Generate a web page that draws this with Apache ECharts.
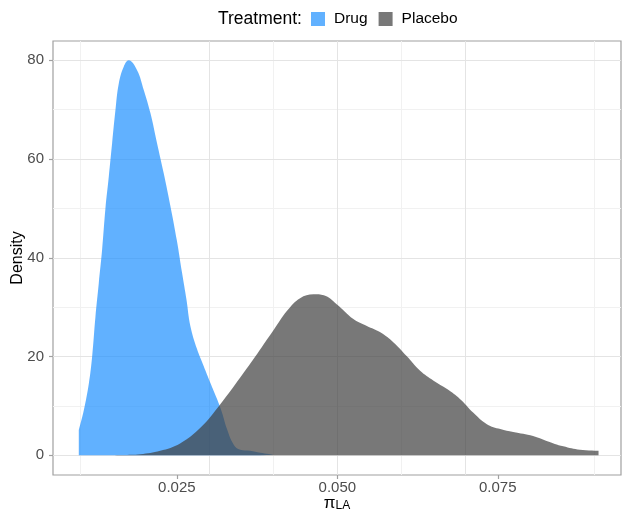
<!DOCTYPE html>
<html>
<head>
<meta charset="utf-8">
<script src="https://cdn.jsdelivr.net/npm/echarts@6/dist/echarts.min.js"></script>
<style>
  html, body { margin: 0; padding: 0; background: #ffffff; }
  #chart { width: 622px; height: 513px; }
</style>
</head>
<body>
<div id="chart"></div>
<script>
// Posterior density of pi_LA by treatment group
const drugX = [0.00972, 0.01050, 0.01128, 0.01180, 0.01231, 0.01283, 0.01335, 0.01387, 0.01439, 0.01491,
               0.01543, 0.01595, 0.01672, 0.01750, 0.01880, 0.01984, 0.02088, 0.02191, 0.02295, 0.02399,
               0.02500, 0.02580, 0.02650, 0.02710, 0.02814, 0.02917, 0.03021, 0.03126, 0.03204, 0.03281,
               0.03384, 0.03488, 0.03644, 0.03800, 0.04007];
const drugY = [5.1, 9.1, 14.5, 20, 28, 34.8, 41.6, 50, 56.4, 63.2,
               69.9, 75.3, 78.7, 80, 78, 74, 69.3, 63.2, 57.1, 50.5,
               43.5, 37, 31.5, 26.2, 21.5, 18.1, 14.7, 11.4, 8.6, 5.3,
               2.2, 1.1, 0.9, 0.5, 0.1];

const placeboX = [0.0140, 0.0165, 0.0193, 0.0224, 0.0255, 0.0287, 0.0318, 0.0349, 0.0375, 0.0401,
                  0.0422, 0.0442, 0.0463, 0.0479, 0.0499, 0.0525, 0.0546, 0.0567, 0.0588, 0.0608,
                  0.0629, 0.0650, 0.0671, 0.0691, 0.0712, 0.0733, 0.0754, 0.0774, 0.0805, 0.0826,
                  0.0852, 0.0878, 0.0907];
const placeboY = [0.0, 0.05, 0.2, 0.9, 2.4, 5.6, 10.4, 15.8, 20.5, 25.4,
                  29.3, 31.8, 32.6, 32.4, 30.6, 27.6, 26.2, 24.9, 22.8, 20.1,
                  17.1, 15.1, 13.4, 11.4, 8.6, 6.3, 5.3, 4.7, 3.9, 2.9,
                  1.8, 1.1, 0.9];

const groups = ['Drug', 'Placebo'];
const legendTitle = 'Treatment:';

const xMajor = [0.025, 0.05, 0.075];
const xMinor = [0.0125, 0.0375, 0.0625, 0.0875];
const yMajor = [0, 20, 40, 60, 80];
const yMinor = [10, 30, 50, 70];

const FONT = '"Liberation Sans", Arial, sans-serif';
const fills = ['rgba(30,144,255,0.7)', 'rgba(63,63,63,0.7)'];

const zip = (xs, ys) => xs.map((x, i) => [x, ys[i]]);

const majorStyle = { color: '#e4e4e4', width: 1, type: 'solid' };
const minorStyle = { color: '#f1f1f1', width: 1, type: 'solid' };
const gridLines = []
  .concat(xMinor.map(v => ({ xAxis: v, lineStyle: minorStyle })))
  .concat(yMinor.map(v => ({ yAxis: v, lineStyle: minorStyle })))
  .concat(xMajor.map(v => ({ xAxis: v, lineStyle: majorStyle })))
  .concat(yMajor.map(v => ({ yAxis: v, lineStyle: majorStyle })));

const chart = echarts.init(document.getElementById('chart'), null, { renderer: 'canvas' });

chart.setOption({
  animation: false,
  backgroundColor: '#ffffff',
  title: {
    text: legendTitle,
    left: 213,
    top: 5,
    textStyle: { fontFamily: FONT, fontSize: 17.5, fontWeight: 'normal', color: '#000000' }
  },
  legend: {
    data: groups,
    left: 306,
    top: 6,
    icon: 'rect',
    itemWidth: 14,
    itemHeight: 14,
    itemGap: 11,
    textStyle: { fontFamily: FONT, fontSize: 15.5, color: '#000000', padding: [0, 0, 0, 4] }
  },
  grid: {
    left: 53,
    top: 41,
    width: 568,
    height: 434,
    containLabel: false,
    outerBoundsMode: 'none',
    show: true,
    borderColor: '#a0a0a0',
    borderWidth: 1.2,
    backgroundColor: 'transparent'
  },
  xAxis: {
    type: 'value',
    min: 0.0057,
    max: 0.0942,
    name: '{p|π}{s|LA}',
    nameLocation: 'middle',
    nameGap: 19,
    nameMoveOverlap: false,
    nameTextStyle: {
      rich: {
        p: { fontFamily: FONT, fontSize: 17, color: '#000000' },
        s: { fontFamily: FONT, fontSize: 12, color: '#000000', padding: [6, 0, 0, 0] }
      }
    },
    axisLine: { show: false, onZero: false },
    axisTick: { show: true, length: 4, lineStyle: { color: '#a0a0a0', width: 1.2 }, customValues: xMajor },
    axisLabel: {
      show: true,
      customValues: xMajor,
      margin: 5,
      fontFamily: FONT,
      fontSize: 15,
      color: '#4d4d4d',
      formatter: v => v.toFixed(3)
    },
    splitLine: { show: false },
    minorSplitLine: { show: false }
  },
  yAxis: {
    type: 'value',
    min: -4,
    max: 83.9,
    name: 'Density',
    nameLocation: 'middle',
    nameGap: 27,
    nameMoveOverlap: false,
    nameTextStyle: { fontFamily: FONT, fontSize: 16, color: '#000000' },
    axisLine: { show: false, onZero: false },
    axisTick: { show: true, length: 4, lineStyle: { color: '#a0a0a0', width: 1.2 }, customValues: yMajor },
    axisLabel: {
      show: true,
      customValues: yMajor,
      margin: 9,
      fontFamily: FONT,
      fontSize: 15,
      color: '#4d4d4d'
    },
    splitLine: { show: false },
    minorSplitLine: { show: false }
  },
  series: [
    {
      name: 'grid',
      type: 'line',
      data: [],
      z: 0,
      silent: true,
      markLine: {
        silent: true,
        z: 0,
        symbol: ['none', 'none'],
        label: { show: false },
        animation: false,
        data: gridLines
      }
    },
    {
      name: groups[0],
      type: 'line',
      data: zip(drugX, drugY),
      smooth: 0.4,
      showSymbol: false,
      symbol: 'none',
      z: 2,
      color: fills[0],
      lineStyle: { width: 0 },
      areaStyle: { color: fills[0], opacity: 1 }
    },
    {
      name: groups[1],
      type: 'line',
      data: zip(placeboX, placeboY),
      smooth: 0.4,
      showSymbol: false,
      symbol: 'none',
      z: 3,
      color: fills[1],
      lineStyle: { width: 0 },
      areaStyle: { color: fills[1], opacity: 1 }
    }
  ]
});
</script>
</body>
</html>
